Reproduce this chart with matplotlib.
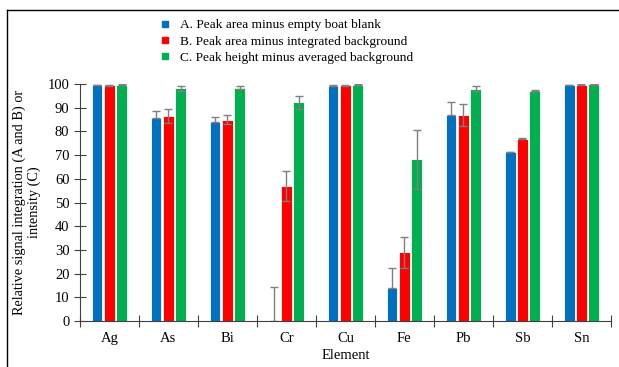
import numpy as np
import matplotlib.pyplot as plt
from matplotlib.lines import Line2D

plt.rcParams['font.family'] = ['Liberation Serif', 'DejaVu Serif']

elements = ["Ag", "As", "Bi", "Cr", "Cu", "Fe", "Pb", "Sb", "Sn"]

# A. peak area minus empty boat blank
area_blank = [99.5, 85.5, 84.0, 0.0, 99.3, 14.0, 87.0, 71.2, 99.5]
area_blank_err = [0.3, 3.2, 2.2, 14.2, 0.3, 8.5, 5.5, 0.3, 0.2]
# B. peak area minus integrated background
area_bkg = [99.5, 86.5, 85.0, 57.0, 99.5, 29.0, 87.0, 77.0, 99.7]
area_bkg_err = [0.3, 3.0, 2.0, 6.5, 0.3, 6.5, 4.5, 0.3, 0.2]
# C. peak height minus averaged background
height_bkg = [99.8, 98.2, 98.5, 92.3, 99.7, 68.2, 98.0, 97.2, 100.0]
height_bkg_err = [0.3, 1.0, 0.7, 2.8, 0.3, 12.5, 1.0, 0.2, 0.2]

labels = ["A. Peak area minus empty boat blank",
          "B. Peak area minus integrated background",
          "C. Peak height minus averaged background"]
colors = ["#0070C0", "#FF0000", "#00B050"]

fig = plt.figure(figsize=(6.19, 3.67), dpi=100)
ax = fig.add_axes([0.129, 0.125, 0.858, 0.646])

x = np.arange(len(elements))
width = 0.185
step = 0.21
series = [(area_blank, area_blank_err), (area_bkg, area_bkg_err), (height_bkg, height_bkg_err)]
for i, (vals, errs) in enumerate(series):
    ax.bar(x + (i - 1) * step, vals, width, color=colors[i], edgecolor="white",
           linewidth=0.6, yerr=[np.zeros(len(errs)), errs] if i == 0 else errs,
           error_kw=dict(ecolor="#7f7f7f", elinewidth=1, capsize=3, capthick=1),
           clip_on=False, zorder=2)

ax.set_xlim(-0.5, len(elements) - 0.5)
ax.set_ylim(0, 100)
ax.set_yticks(np.arange(0, 101, 10))
ax.set_xticks(np.arange(-0.5, len(elements), 1.0))
ax.set_xticklabels([])
ax.set_xticks(x, minor=True)
ax.set_xticklabels(elements, minor=True, fontsize=10.5)
ax.tick_params(axis="x", which="minor", length=0, pad=8)
ax.tick_params(axis="x", which="major", direction="inout", length=8, color="#404040")
ax.tick_params(axis="y", direction="inout", length=9, labelsize=10.5, color="#404040", pad=3)

for side in ["top", "right"]:
    ax.spines[side].set_visible(False)
for side in ["left", "bottom"]:
    ax.spines[side].set_color("#404040")

ax.set_xlabel("Element", fontsize=10.5, labelpad=3)
ax.set_ylabel("Relative signal integration (A and B) or\nintensity (C)", fontsize=10.3,
              labelpad=5, linespacing=1.1, multialignment="center")

handles = [Line2D([], [], marker="s", linestyle="", color=c, markersize=5) for c in colors]
fig.legend(handles, labels, loc="upper center", bbox_to_anchor=(0.456, 0.963), frameon=False,
           fontsize=9.6, handletextpad=0.1, labelspacing=0.3, borderaxespad=0)

# thin frame around the figure
fig.add_artist(Line2D([0.012, 0.012], [0.0, 0.973], color="black", lw=1))
fig.add_artist(Line2D([0.012, 1.0], [0.973, 0.973], color="black", lw=1))

fig.savefig("out.png", dpi=100)
